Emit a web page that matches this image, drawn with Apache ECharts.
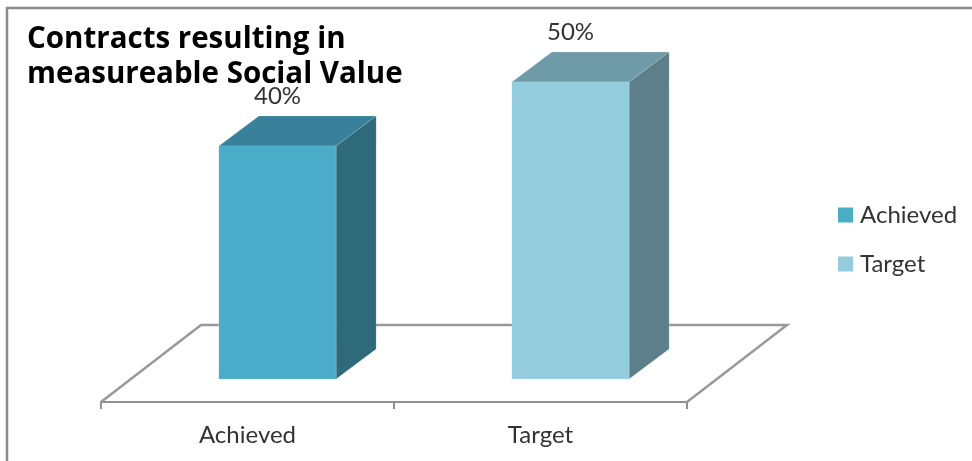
<!DOCTYPE html>
<html>
<head>
<meta charset="utf-8">
<title>Contracts resulting in measureable Social Value</title>
<style>
html,body{margin:0;padding:0;background:#fff;}
#chart{width:972px;height:461px;}
</style>
<script src="https://cdn.jsdelivr.net/npm/echarts@6/dist/echarts.min.js"></script>
</head>
<body>
<div id="chart"></div>
<script>
var categories = ['Achieved', 'Target'];
var achievedValues = [[0, 40]];
var targetValues = [[1, 50]];
var yMin = 0;
var yMax = 50;

var fontName = 'Lato';

// 柱子前面相对坐标轴的偏移,以及柱子/地板的纵深
var frontDx = 30, frontDy = 23;
var barDepthX = 40, barDepthY = 30;
var floorDepthX = 100, floorDepthY = 77;

// 画一根立体柱子:顶面、侧面、前面和数值标签
function renderBar(colors) {
	return function (params, api) {
		var idx = api.value(0);
		var top = api.coord([idx, api.value(1)]);
		var base = api.coord([idx, 0]);
		var halfW = api.size([1, 0])[0] * 0.2;
		var x0 = top[0] + frontDx - halfW;
		var x1 = top[0] + frontDx + halfW;
		var yTop = top[1];
		var yBase = base[1] - frontDy;
		var edge = { stroke: colors.edge, lineWidth: 1 };
		return {
			type: 'group',
			children: [
				{
					type: 'polygon',
					shape: { points: [[x0, yTop], [x0 + barDepthX, yTop - barDepthY], [x1 + barDepthX, yTop - barDepthY], [x1, yTop]] },
					style: { fill: colors.top, stroke: edge.stroke, lineWidth: edge.lineWidth }
				},
				{
					type: 'polygon',
					shape: { points: [[x1, yTop], [x1 + barDepthX, yTop - barDepthY], [x1 + barDepthX, yBase - barDepthY], [x1, yBase]] },
					style: { fill: colors.side, stroke: edge.stroke, lineWidth: edge.lineWidth }
				},
				{
					type: 'rect',
					shape: { x: x0, y: yTop, width: x1 - x0, height: yBase - yTop },
					style: { fill: colors.front, stroke: edge.stroke, lineWidth: edge.lineWidth }
				},
				{
					type: 'text',
					style: {
						text: api.value(1) + '%',
						x: (x0 + x1) / 2,
						y: yTop - 50,
						align: 'center',
						verticalAlign: 'middle',
						fontFamily: fontName,
						fontSize: 24,
						fill: '#333'
					}
				}
			]
		};
	};
}

// 地板的后边和两条斜边
function renderFloor(params, api) {
	var c = params.coordSys;
	var bottom = c.y + c.height;
	return {
		type: 'polyline',
		shape: {
			points: [
				[c.x, bottom],
				[c.x + floorDepthX, bottom - floorDepthY],
				[c.x + c.width + floorDepthX, bottom - floorDepthY],
				[c.x + c.width, bottom]
			]
		},
		style: { fill: null, stroke: '#999', lineWidth: 2.5 }
	};
}

var chart = echarts.init(document.getElementById('chart'), null, { renderer: 'canvas' });
chart.setOption({
	backgroundColor: '#fff',
	animation: false,
	title: {
		text: 'Contracts resulting in\nmeasureable Social Value',
		left: 27,
		top: 22,
		padding: 0,
		textStyle: { fontFamily: 'Open Sans', fontWeight: 'bold', fontSize: 29.5, lineHeight: 35, color: '#000' }
	},
	legend: {
		data: categories,
		orient: 'vertical',
		left: 833,
		top: 198,
		icon: 'rect',
		itemWidth: 15,
		itemHeight: 15,
		itemGap: 25,
		textStyle: { fontFamily: fontName, fontSize: 24, color: '#333', padding: [0, 0, 0, 2] }
	},
	grid: { left: 101, top: 82, width: 586, height: 320 },
	xAxis: {
		type: 'category',
		data: categories,
		axisLine: { lineStyle: { color: '#909090', width: 2 } },
		axisTick: { show: true, length: 7, lineStyle: { color: '#909090', width: 2 } },
		axisLabel: { fontFamily: fontName, fontSize: 24, color: '#333', margin: 21 }
	},
	yAxis: { type: 'value', min: yMin, max: yMax, show: false },
	series: [
		{ name: 'floor', type: 'custom', silent: true, z: 1, data: [[0, 0]], renderItem: renderFloor },
		{
			name: 'Achieved',
			type: 'custom',
			z: 2,
			itemStyle: { color: '#4bacc6' },
			data: achievedValues,
			encode: { x: 0, y: 1 },
			renderItem: renderBar({ front: '#4aacc8', top: '#39819a', side: '#2f6a7a', edge: 'rgba(190,225,235,0.2)' })
		},
		{
			name: 'Target',
			type: 'custom',
			z: 2,
			itemStyle: { color: '#93cddd' },
			data: targetValues,
			encode: { x: 0, y: 1 },
			renderItem: renderBar({ front: '#93cddd', top: '#6f9aa7', side: '#5c7f89', edge: 'rgba(215,235,240,0.2)' })
		}
	],
	graphic: [
		{
			type: 'rect',
			silent: true,
			shape: { x: 7, y: 8, width: 1100, height: 600 },
			style: { fill: null, stroke: '#8a8a8a', lineWidth: 2.5 }
		}
	]
});
</script>
</body>
</html>
